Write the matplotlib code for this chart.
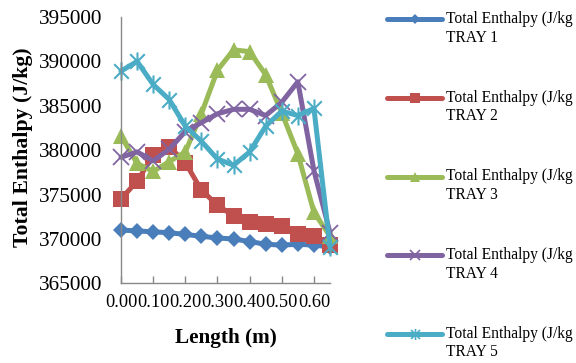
import matplotlib
matplotlib.use("Agg")
import matplotlib.pyplot as plt
from matplotlib.path import Path
from matplotlib.lines import Line2D

plt.rcParams['font.family'] = ['Liberation Serif', 'DejaVu Serif']

length = [0.00, 0.05, 0.10, 0.15, 0.20, 0.25, 0.30, 0.35, 0.40, 0.45, 0.50, 0.55, 0.60, 0.65]
tray1 = [371000, 370900, 370800, 370700, 370500, 370300, 370100, 370000, 369700, 369400, 369300, 369400, 369300, 369100]
tray2 = [374500, 376500, 379400, 380400, 378600, 375500, 373800, 372600, 371900, 371700, 371500, 370500, 370300, 369300]
tray3 = [381600, 378500, 377600, 378700, 379800, 384100, 389000, 391300, 391100, 388500, 384200, 379600, 373000, 370300]
tray4 = [379200, 379800, 378800, 380100, 382100, 383100, 384100, 384600, 384600, 383900, 385400, 387700, 377700, 370700]
tray5 = [388900, 390000, 387400, 385700, 382700, 381000, 379000, 378300, 379800, 382700, 384400, 383900, 384700, 369100]
series_labels = ["TRAY 1", "TRAY 2", "TRAY 3", "TRAY 4", "TRAY 5"]
legend_prefix = "Total Enthalpy (J/kg"   # as visible in the reference (cut at the edge)
xticks = [0.00, 0.10, 0.20, 0.30, 0.40, 0.50, 0.60]
yticks = [365000, 370000, 375000, 380000, 385000, 390000, 395000]

# asterisk marker: x plus vertical line
ast = Path([(-0.5, -0.5), (0.5, 0.5), (-0.5, 0.5), (0.5, -0.5), (0, -0.62), (0, 0.62)],
           [Path.MOVETO, Path.LINETO, Path.MOVETO, Path.LINETO, Path.MOVETO, Path.LINETO])

colors = ['#4A7EBB', '#C0504D', '#9BBB59', '#8064A2', '#4BACC6']
markers = ['D', 's', '^', 'x', ast]
msizes = [7.8, 11.5, 11.5, 11.5, 13]
mews = [0, 0, 0, 1.3, 1.5]
data = [tray1, tray2, tray3, tray4, tray5]

fig = plt.figure(figsize=(5.76, 3.63), dpi=100)
ax = fig.add_axes([121/576, 1-283.3/363, 209/576, 266.3/363])

for vals, c, m, ms, mew in zip(data, colors, markers, msizes, mews):
    ax.plot(length, vals, color=c, lw=3.6, marker=m, markersize=ms,
            markerfacecolor=c, markeredgecolor=c, markeredgewidth=mew,
            solid_joinstyle='round', solid_capstyle='round', clip_on=False)

ax.set_xlim(0, 0.65)
ax.set_ylim(365000, 395000)
ax.set_xticks(xticks)
ax.set_xticklabels([f"{v:.2f}" for v in xticks], fontsize=13.2)
ax.set_yticks(yticks)
ax.set_yticklabels([str(v) for v in yticks], fontsize=15.3)
ax.tick_params(axis='y', length=0, pad=13.5)
ax.tick_params(axis='x', direction='in', length=5, width=1, color='#888888', pad=7.5)
for s in ['top', 'right']:
    ax.spines[s].set_visible(False)
for s in ['left', 'bottom']:
    ax.spines[s].set_color('#888888')
    ax.spines[s].set_linewidth(1.0)
ax.patch.set_alpha(0)

ax.set_ylabel("Total Enthalpy (J/kg)", fontsize=15.7, fontweight='bold')
ax.yaxis.set_label_coords(-0.47, 0.51)
ax.yaxis.label.set_va('center')
ax.set_xlabel("Length (m)", fontsize=15.3, fontweight='bold')
ax.xaxis.set_label_coords(0.502, -0.205)
ax.xaxis.label.set_va('center')

# legend drawn at right
W, H = 576, 363
for k, (lab, c, m) in enumerate(zip(series_labels, colors, markers)):
    yl = 19.3 + 78.6 * k
    ln = Line2D([387/W, 442/W], [1 - yl/H, 1 - yl/H], transform=fig.transFigure,
                color=c, lw=3.6, solid_capstyle='round')
    fig.add_artist(ln)
    mk = Line2D([414.5/W], [1 - yl/H], transform=fig.transFigure, color=c,
                marker=m, markersize=[5.5, 7.5, 7, 7, 8][k], markerfacecolor=c,
                markeredgecolor=c, markeredgewidth=[0, 0, 0, 1.2, 1.2][k], lw=0)
    fig.add_artist(mk)
    fig.text(446/W, 1 - yl/H, legend_prefix, fontsize=11.2, va='center', ha='left')
    fig.text(446/W, 1 - (yl + 18.5)/H, lab, fontsize=11.2, va='center', ha='left')

fig.savefig("out.png", dpi=100)
